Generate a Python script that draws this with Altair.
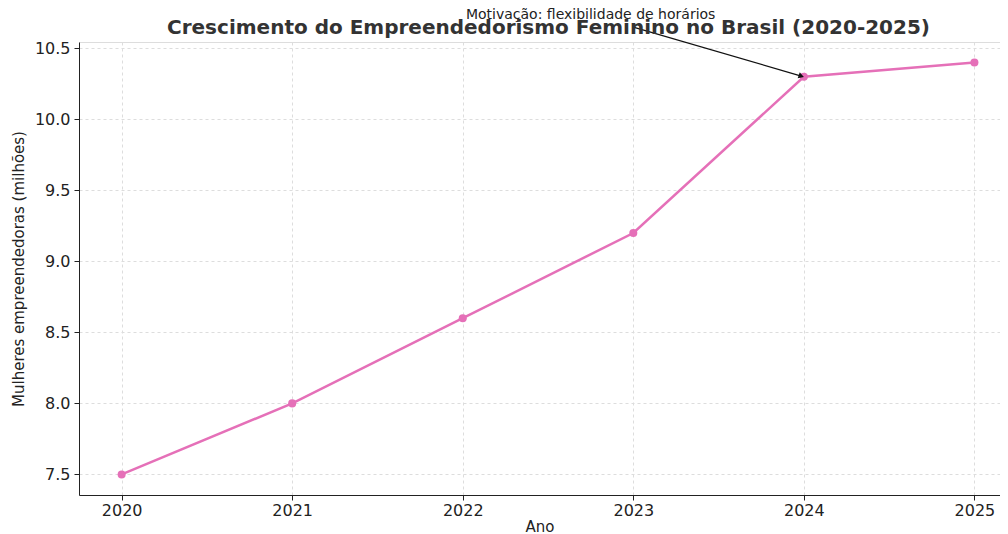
import altair as alt
import pandas as pd

anos = [2020, 2021, 2022, 2023, 2024, 2025]
mulheres = [7.5, 8.0, 8.6, 9.2, 10.3, 10.4]

y_ticks = [7.5, 8.0, 8.5, 9.0, 9.5, 10.0, 10.5]
x_domain = [2019.75, 2025.15]
y_domain = [7.355, 10.545]

annot_text = ["Motivação: flexibilidade de horários"]
annot_text_pos = [2022.75, 10.735]
arrow_from = [2023.0, 10.65]
arrow_to = [2023.985, 10.305]

df = pd.DataFrame({"Ano": anos, "Mulheres": mulheres})
df_arrow = pd.DataFrame({"x": [arrow_from[0]], "y": [arrow_from[1]],
                         "x2": [arrow_to[0]], "y2": [arrow_to[1]]})
df_head = pd.DataFrame({"x": [arrow_to[0]], "y": [arrow_to[1]]})
df_text = pd.DataFrame({"x": [annot_text_pos[0]], "y": [annot_text_pos[1]], "t": annot_text})

LINE = "#e570b8"
FONT = "DejaVu Sans"

xenc = alt.X("Ano:Q", title="Ano",
             scale=alt.Scale(domain=x_domain, nice=False, zero=False),
             axis=alt.Axis(values=anos, format="d", grid=True, gridDash=[3, 3],
                           gridColor="#dddddd", labelFontSize=16, titleFontSize=15,
                           labelColor="#222222", titleColor="#222222", domainColor="#222222",
                           tickColor="#222222", tickSize=5, labelPadding=2, titlePadding=1,
                           labelFont=FONT, titleFont=FONT, titleFontWeight="normal"))
yenc = alt.Y("Mulheres:Q", title="Mulheres empreendedoras (milhões)",
             scale=alt.Scale(domain=y_domain, nice=False, zero=False),
             axis=alt.Axis(values=y_ticks, format=".1f", grid=True, gridDash=[3, 3],
                           gridColor="#dddddd", labelFontSize=16, titleFontSize=15,
                           labelColor="#222222", titleColor="#222222", domainColor="#222222",
                           tickColor="#222222", tickSize=5, labelPadding=4, titlePadding=8,
                           labelFont=FONT, titleFont=FONT, titleFontWeight="normal"))

line = alt.Chart(df).mark_line(color=LINE, strokeWidth=2.5).encode(x=xenc, y=yenc)
pts = alt.Chart(df).mark_circle(color=LINE, size=65, opacity=1).encode(x="Ano:Q", y="Mulheres:Q")

arrow = alt.Chart(df_arrow).mark_rule(color="#111111", strokeWidth=1.2, clip=False).encode(
    x="x:Q", y="y:Q", x2="x2:Q", y2="y2:Q")
head = alt.Chart(df_head).mark_point(shape="triangle-right", filled=True, color="#111111",
                                     size=40, angle=19, opacity=1, clip=False).encode(
    x="x:Q", y="y:Q")
text = alt.Chart(df_text).mark_text(font=FONT, fontSize=14, color="#222222",
                                    baseline="middle", align="center", clip=False).encode(
    x="x:Q", y="y:Q", text="t:N")

chart = alt.layer(text, line, pts, arrow, head).properties(
    width=921, height=453,
    title=alt.TitleParams("Crescimento do Empreendedorismo Feminino no Brasil (2020-2025)",
                          font=FONT, fontSize=20, fontWeight="bold", color="#333333",
                          anchor="middle", offset=5, frame="group", dy=35, dx=9),
    autosize=alt.AutoSizeParams(type="none"),
    padding={"left": 71, "top": 34, "right": 0, "bottom": 40},
).configure_view(stroke=None).configure(background="white")

chart.save("out.html", embed_options={"renderer": "svg", "actions": False})
